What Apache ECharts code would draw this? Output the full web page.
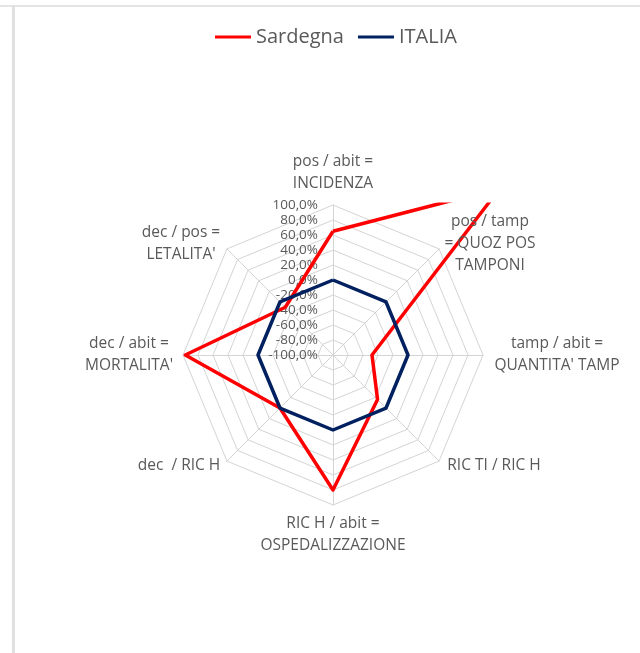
<!DOCTYPE html>
<html>
<head>
<meta charset="utf-8">
<script src="https://cdn.jsdelivr.net/npm/echarts@6/dist/echarts.min.js"></script>
<style>
  html, body { margin: 0; padding: 0; background: #ffffff; }
  #chart { width: 640px; height: 653px; }
</style>
</head>
<body>
<div id="chart"></div>
<script>
// Indicators, listed clockwise starting from the top
const categories = [
  "pos / abit =\nINCIDENZA",
  "pos / tamp\n= QUOZ POS\nTAMPONI",
  "tamp / abit =\nQUANTITA' TAMP",
  "RIC TI / RIC H",
  "RIC H / abit =\nOSPEDALIZZAZIONE",
  "dec  / RIC H",
  "dec / abit =\nMORTALITA'",
  "dec / pos =\nLETALITA'"
];
// Percent difference, same order as categories
const sardegna = [65, 215, -48, -16, 80, 0, 97, -10];
const italia   = [0, 0, 0, 0, 0, 0, 0, 0];
const axisMin = -100;
const axisMax = 100;
const axisStep = 20;

// Label anchor points for the indicator names (block centre)
const namePos = [
  [333, 173], [490, 244], [557, 355], [494, 466],
  [333, 535], [179, 466], [129, 355], [181, 244]
];

const textColor = '#595959';
const gridColor = '#d4d4d4';

// ECharts lays radar indicators out counter-clockwise; reorder to draw clockwise
const ccw = a => [a[0]].concat(a.slice(1).reverse());

const indicator = ccw(categories).map((name, i) => {
  const ind = { name: name, min: axisMin, max: axisMax };
  if (i === 0) ind.axisLabel = { show: true };
  return ind;
});

const fmtPct = v => v.toFixed(1).replace('.', ',') + '%';

const nameTexts = categories.map((t, i) => ({
  type: 'text',
  x: namePos[i][0],
  y: namePos[i][1],
  z: 5,
  style: {
    text: t,
    align: 'center',
    verticalAlign: 'middle',
    fill: textColor,
    font: '15.5px "Open Sans"',
    lineHeight: 22
  }
}));

const chart = echarts.init(document.getElementById('chart'), null, { renderer: 'canvas' });
chart.setOption({
  animation: false,
  backgroundColor: '#ffffff',
  legend: {
    left: 210,
    top: 22,
    icon: 'rect',
    itemWidth: 36,
    itemHeight: 3,
    itemGap: 14,
    textStyle: { color: textColor, fontSize: 20, fontFamily: 'Open Sans' },
    data: ['Sardegna', 'ITALIA']
  },
  radar: {
    center: [333, 355],
    radius: 150,
    startAngle: 90,
    splitNumber: (axisMax - axisMin) / axisStep,
    shape: 'polygon',
    indicator: indicator,
    axisName: { show: false },
    axisLine: { lineStyle: { color: gridColor, width: 1 } },
    splitLine: { lineStyle: { color: gridColor, width: 1 } },
    splitArea: { show: false },
    axisTick: { show: false },
    axisLabel: {
      show: false,
      color: textColor,
      fontSize: 13.5,
      fontFamily: 'Open Sans',
      margin: 15,
      formatter: fmtPct
    }
  },
  series: [{
    type: 'radar',
    symbol: 'none',
    data: [
      {
        name: 'Sardegna',
        value: ccw(sardegna),
        lineStyle: { color: '#ff0000', width: 3.5 },
        itemStyle: { color: '#ff0000' }
      },
      {
        name: 'ITALIA',
        value: ccw(italia),
        lineStyle: { color: '#002060', width: 3.5 },
        itemStyle: { color: '#002060' }
      }
    ]
  }],
  graphic: [
    // plot-area clip above the radar on the right
    { type: 'rect', z: 4, shape: { x: 380, y: 50, width: 260, height: 152.5 }, style: { fill: '#ffffff' } },
    // sheet edges
    { type: 'rect', z: 6, shape: { x: 0, y: 5, width: 640, height: 2 }, style: { fill: '#e4e4e4' } },
    { type: 'rect', z: 6, shape: { x: 12, y: 5, width: 3, height: 648 }, style: { fill: '#e0e0e0' } }
  ].concat(nameTexts)
});
</script>
</body>
</html>
